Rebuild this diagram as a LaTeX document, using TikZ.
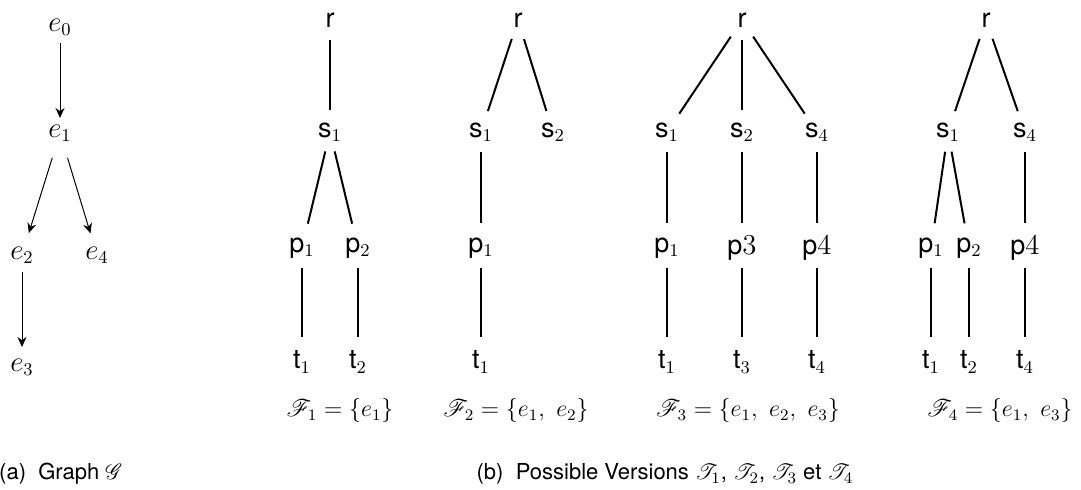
\documentclass[tikz,border=0pt]{standalone}
\usepackage{fontspec}
\setsansfont{TeX Gyre Heros}
\usepackage{mathrsfs}
\usetikzlibrary{arrows.meta}
\begin{document}
\begin{tikzpicture}[x=0.5pt,y=-0.5pt,
  lbl/.style={inner sep=0pt, font=\sffamily\fontsize{13.5}{16}\selectfont},
  elbl/.style={inner sep=0pt, font=\fontsize{13.5}{16}\selectfont},
  tedge/.style={line width=1pt, shorten <=10pt, shorten >=11pt},
  tedgep/.style={line width=1pt, shorten <=10pt, shorten >=12.5pt},
  garrow/.style={-{Stealth[length=5pt,width=4.5pt]}, line width=0.5pt},
  capt/.style={font=\sffamily\fontsize{11}{13}\selectfont, inner sep=0pt},
  flbl/.style={font=\fontsize{11.5}{14}\selectfont, inner sep=0pt}]
\useasboundingbox (0,0) rectangle (1081,490);
% graph (a)
\node[elbl] (e0) at (60,27) {$e_0$};
\node[elbl] (e1) at (60,133) {$e_1$};
\node[elbl] (e2) at (22,255) {$e_2$};
\node[elbl] (e4) at (97,255) {$e_4$};
\node[elbl] (e3) at (22,367) {$e_3$};
\draw[garrow, shorten <=8pt, shorten >=7.5pt] (e0.center) -- (e1.center);
\draw[garrow, shorten <=13pt, shorten >=11.5pt] (e1.center) -- (e2.center);
\draw[garrow, shorten <=13pt, shorten >=11.3pt] (e1.center) -- (e4.center);
\draw[garrow, shorten <=8.5pt, shorten >=10pt] (e2.center) -- (e3.center);
\node[capt, anchor=base east] (capa) at (123,480) {(a)\ \ Graph $\mathscr{G}$};
% tree 1
\node[lbl] (r1) at (330,20) {r};
\node[lbl] (s11) at (330,132) {s$_1$};
\node[lbl] (p11) at (302,248) {p$_1$};
\node[lbl] (p12) at (358,248) {p$_2$};
\node[lbl] (t11) at (302,362) {t$_1$};
\node[lbl] (t12) at (358,362) {t$_2$};
\draw[tedge] (r1.center) -- (s11.center);
\draw[tedgep] (s11.center) -- (p11.center);
\draw[tedgep] (s11.center) -- (p12.center);
\draw[tedgep] (p11.center) -- (t11.center);
\draw[tedgep] (p12.center) -- (t12.center);
\node[flbl] (f1) at (340,411) {$\mathscr{F}_1 = \{e_1\}$};
% tree 2
\node[lbl] (r2) at (518,20) {r};
\node[lbl] (s21) at (481,132) {s$_1$};
\node[lbl] (s22) at (553,132) {s$_2$};
\node[lbl] (p21) at (481,248) {p$_1$};
\node[lbl] (t21) at (481,362) {t$_1$};
\draw[tedge] (r2.center) -- (s21.center);
\draw[tedge] (r2.center) -- (s22.center);
\draw[tedgep] (s21.center) -- (p21.center);
\draw[tedgep] (p21.center) -- (t21.center);
\node[flbl] (f2) at (516,411) {$\mathscr{F}_2 = \{e_1,\ e_2\}$};
% tree 3
\node[lbl] (r3) at (742,20) {r};
\node[lbl] (s31) at (667,132) {s$_1$};
\node[lbl] (s32) at (742,132) {s$_2$};
\node[lbl] (s34) at (817,132) {s$_4$};
\node[lbl] (p31) at (667,248) {p$_1$};
\node[lbl] (p33) at (742,248) {p$3$};
\node[lbl] (p34) at (817,248) {p$4$};
\node[lbl] (t31) at (667,362) {t$_1$};
\node[lbl] (t33) at (742,362) {t$_3$};
\node[lbl] (t34) at (817,362) {t$_4$};
\draw[tedge] (r3.center) -- (s31.center);
\draw[tedge] (r3.center) -- (s32.center);
\draw[tedge] (r3.center) -- (s34.center);
\draw[tedgep] (s31.center) -- (p31.center);
\draw[tedgep] (s32.center) -- (p33.center);
\draw[tedgep] (s34.center) -- (p34.center);
\draw[tedgep] (p31.center) -- (t31.center);
\draw[tedgep] (p33.center) -- (t33.center);
\draw[tedgep] (p34.center) -- (t34.center);
\node[flbl] (f3) at (748,411) {$\mathscr{F}_3 = \{e_1,\ e_2,\ e_3\}$};
% tree 4
\node[lbl] (r4) at (986,20) {r};
\node[lbl] (s41) at (948,132) {s$_1$};
\node[lbl] (s44) at (1025,132) {s$_4$};
\node[lbl] (p41) at (931,248) {p$_1$};
\node[lbl] (p42) at (969,248) {p$_2$};
\node[lbl] (p44) at (1025,248) {p$4$};
\node[lbl] (t41) at (931,362) {t$_1$};
\node[lbl] (t42) at (969,362) {t$_2$};
\node[lbl] (t44) at (1025,362) {t$_4$};
\draw[tedge] (r4.center) -- (s41.center);
\draw[tedge] (r4.center) -- (s44.center);
\draw[tedgep] (s41.center) -- (p41.center);
\draw[tedgep] (s41.center) -- (p42.center);
\draw[tedgep] (s44.center) -- (p44.center);
\draw[tedgep] (p41.center) -- (t41.center);
\draw[tedgep] (p42.center) -- (t42.center);
\draw[tedgep] (p44.center) -- (t44.center);
\node[flbl] (f4) at (1000,411) {$\mathscr{F}_4 = \{e_1,\ e_3\}$};
\node[capt, anchor=base] (capb) at (665,480) {(b)\ \ Possible Versions $\mathscr{T}_1$, $\mathscr{T}_2$, $\mathscr{T}_3$ et $\mathscr{T}_4$};
\end{tikzpicture}
\end{document}
